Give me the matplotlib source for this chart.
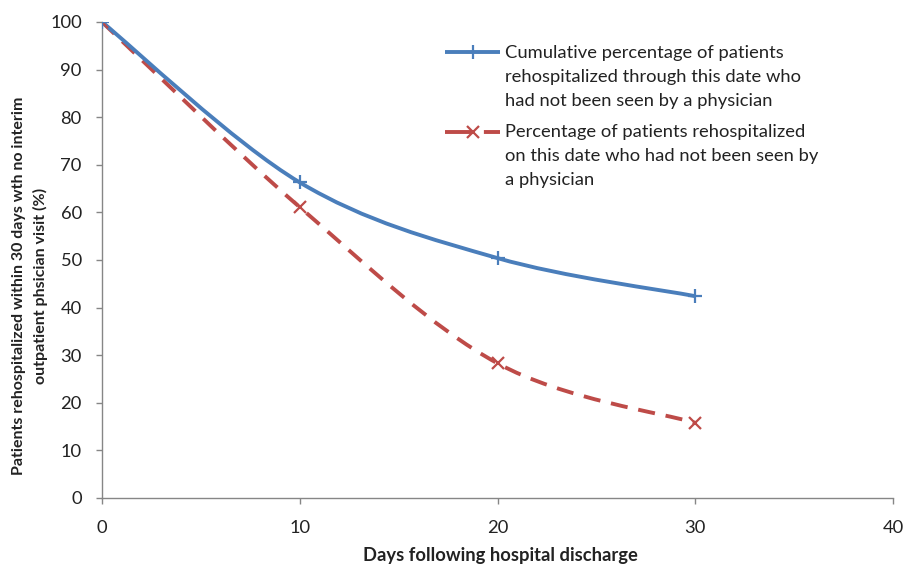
import matplotlib
matplotlib.use("Agg")
import matplotlib.pyplot as plt
from matplotlib.path import Path
from matplotlib.patches import PathPatch
from matplotlib.lines import Line2D
import numpy as np

days = [0, 10, 20, 30]
cumulative_pct = [100, 66.3, 50.4, 42.4]
on_date_pct = [100, 61.1, 28.3, 15.8]
x_ticks = [0, 10, 20, 30, 40]
y_ticks = list(range(0, 101, 10))
label_cum = "Cumulative percentage of patients\nrehospitalized through this date who\nhad not been seen by a physician"
label_on = "Percentage of patients rehospitalized\non this date who had not been seen by\na physician"
x_label = "Days following hospital discharge"
y_label = "Patients rehospitalized within 30 days wth no interim\noutpatient phsician visit (%)"

BLUE = "#4A7EBB"
RED = "#BE4B48"
TXT = "#222222"
FONT = "Lato"
plt.rcParams["font.family"] = [FONT, "DejaVu Sans"]

W, H = 908, 564


def smooth_path(xs, ys):
    """Excel-style smoothed line: cubic Bezier through the data points."""
    pts = np.column_stack([xs, ys]).astype(float)
    n = len(pts)
    verts = [pts[0]]
    codes = [Path.MOVETO]
    for i in range(n - 1):
        p0 = pts[i - 1] if i > 0 else pts[i]
        p1 = pts[i]
        p2 = pts[i + 1]
        p3 = pts[i + 2] if i + 2 < n else pts[i + 1]
        c1 = p1 + (p2 - p0) / 6.0
        c2 = p2 - (p3 - p1) / 6.0
        verts += [c1, c2, p2]
        codes += [Path.CURVE4] * 3
    return Path(verts, codes)


fig = plt.figure(figsize=(W / 100, H / 100), dpi=100)
ax = fig.add_axes([102 / W, 66 / H, 791 / W, 476 / H])

LW = 2.8
RED_DASH = (0, (4.4, 2.8))
ax.add_patch(PathPatch(smooth_path(days, on_date_pct), facecolor="none",
                       edgecolor=RED, lw=LW, linestyle=RED_DASH,
                       capstyle="butt", zorder=2))
ax.add_patch(PathPatch(smooth_path(days, cumulative_pct), facecolor="none",
                       edgecolor=BLUE, lw=LW, zorder=3))
ax.plot(days, on_date_pct, linestyle="none", marker="x", ms=9, mew=1.6,
        color=RED, zorder=4)
ax.plot(days, cumulative_pct, linestyle="none", marker="+", ms=10, mew=1.6,
        color=BLUE, zorder=5)

ax.set_xlim(0, 40)
ax.set_ylim(0, 100)
ax.set_xticks(x_ticks)
ax.set_yticks(y_ticks)
for s in ["top", "right"]:
    ax.spines[s].set_visible(False)
for s in ["left", "bottom"]:
    ax.spines[s].set_color("#868686")
    ax.spines[s].set_linewidth(1.0)
ax.tick_params(axis="both", direction="out", length=4.5, width=1.0,
               color="#868686", labelsize=13.2, labelcolor=TXT)
ax.tick_params(axis="x", pad=11)
ax.tick_params(axis="y", pad=10)

ax.set_xlabel(x_label, fontsize=13.2, fontweight="bold", color=TXT)
ax.xaxis.set_label_coords((500 - 102) / 791, (498 - 555) / 476)
ax.xaxis.label.set_va("center")
ax.set_ylabel(y_label, fontsize=11.5, fontweight="bold", color=TXT,
              linespacing=1.55)
ax.yaxis.set_label_coords((30 - 102) / 791, (498 - 286) / 476)
ax.yaxis.label.set_va("center")

# legend (drawn by hand so each handle sits on the first line of its label)
LEG_FS = 13.2
entries = [
    (label_cum, dict(color=BLUE, lw=LW, marker="+", ms=10, mew=1.6), 52, 45),
    (label_on, dict(color=RED, lw=LW, linestyle=(0, (7, 3)), marker="x",
                    ms=9, mew=1.6), 132, 124),
]
for text, style, y_handle, y_top in entries:
    fy = 1 - y_handle / H
    fig.add_artist(Line2D([445 / W, 472.5 / W, 500 / W], [fy, fy, fy],
                          transform=fig.transFigure, markevery=[1],
                          solid_capstyle="butt", dash_capstyle="butt",
                          **style))
    fig.text(505 / W, 1 - y_top / H, text, fontsize=LEG_FS, color=TXT,
             va="top", ha="left", linespacing=1.6)

fig.savefig("out.png", dpi=100, facecolor="white")
